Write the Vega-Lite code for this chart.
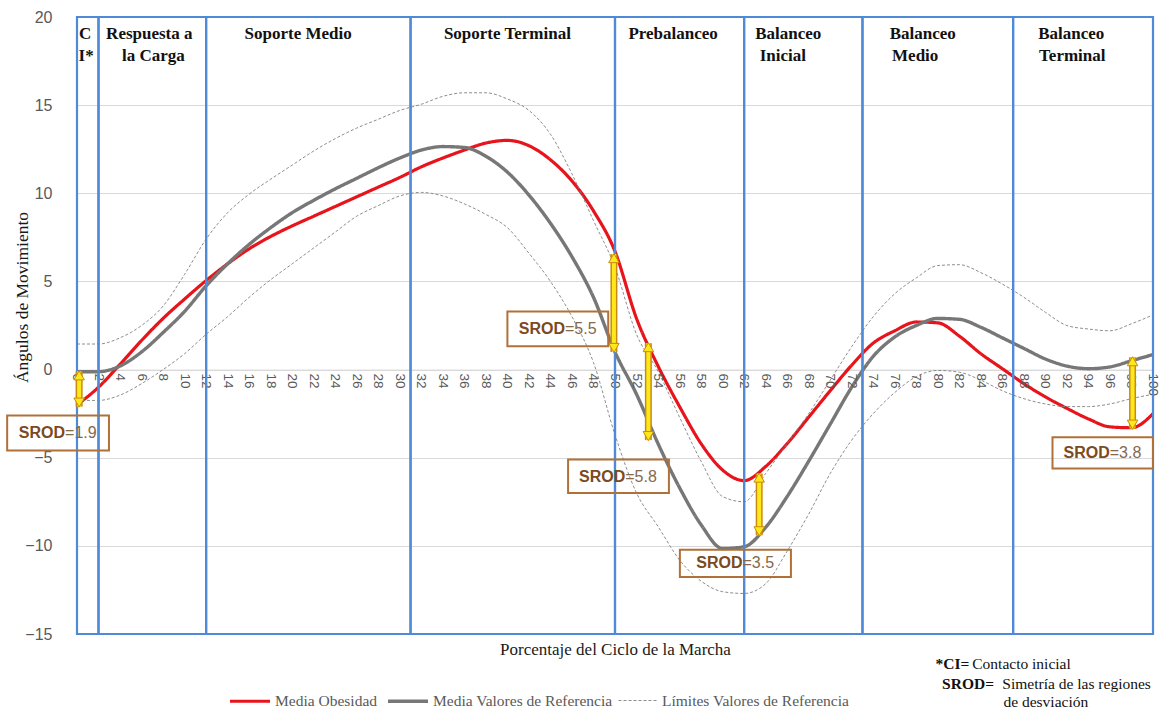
{
  "$schema": "https://vega.github.io/schema/vega-lite/v6.json",
  "width": 1076,
  "height": 617,
  "autosize": "none",
  "padding": {"left": 77, "top": 17, "right": 7, "bottom": 76},
  "background": "white",
  "config": {"view": {"stroke": null}, "font": "Liberation Sans"},
  "datasets": {
    "curve": [
      {"p":0,"ob":-2.0,"ref":-0.12,"sup":1.45,"inf":-1.75},
      {"p":2,"ob":-1.0,"ref":-0.12,"sup":1.45,"inf":-1.75},
      {"p":4,"ob":0.3,"ref":0.2,"sup":1.8,"inf":-1.45},
      {"p":6,"ob":1.65,"ref":1.0,"sup":2.5,"inf":-0.8},
      {"p":8,"ob":2.9,"ref":2.1,"sup":3.6,"inf":0.0},
      {"p":10,"ob":4.0,"ref":3.3,"sup":5.4,"inf":0.9},
      {"p":12,"ob":5.05,"ref":4.75,"sup":7.4,"inf":2.0},
      {"p":14,"ob":6.0,"ref":6.0,"sup":8.9,"inf":3.0},
      {"p":16,"ob":6.85,"ref":7.1,"sup":9.95,"inf":4.1},
      {"p":18,"ob":7.55,"ref":8.05,"sup":10.8,"inf":5.1},
      {"p":20,"ob":8.15,"ref":8.9,"sup":11.6,"inf":6.0},
      {"p":22,"ob":8.7,"ref":9.6,"sup":12.4,"inf":6.9},
      {"p":24,"ob":9.25,"ref":10.25,"sup":13.1,"inf":7.8},
      {"p":26,"ob":9.8,"ref":10.85,"sup":13.7,"inf":8.7},
      {"p":28,"ob":10.35,"ref":11.45,"sup":14.2,"inf":9.3},
      {"p":30,"ob":10.9,"ref":12.0,"sup":14.7,"inf":9.85},
      {"p":32,"ob":11.5,"ref":12.45,"sup":15.05,"inf":10.05},
      {"p":34,"ob":12.0,"ref":12.65,"sup":15.5,"inf":9.85},
      {"p":36,"ob":12.45,"ref":12.6,"sup":15.7,"inf":9.4},
      {"p":38,"ob":12.85,"ref":12.1,"sup":15.7,"inf":8.8},
      {"p":40,"ob":13.0,"ref":11.2,"sup":15.35,"inf":8.05},
      {"p":42,"ob":12.7,"ref":9.9,"sup":14.7,"inf":6.6},
      {"p":44,"ob":11.9,"ref":8.3,"sup":13.35,"inf":5.0},
      {"p":46,"ob":10.7,"ref":6.4,"sup":11.1,"inf":3.0},
      {"p":48,"ob":9.0,"ref":4.1,"sup":8.45,"inf":0.4},
      {"p":50,"ob":6.7,"ref":1.0,"sup":5.8,"inf":-3.7},
      {"p":52,"ob":2.9,"ref":-1.4,"sup":2.0,"inf":-7.0},
      {"p":54,"ob":0.2,"ref":-4.2,"sup":-0.1,"inf":-8.9},
      {"p":56,"ob":-2.1,"ref":-6.7,"sup":-2.7,"inf":-10.8},
      {"p":58,"ob":-4.2,"ref":-8.8,"sup":-5.2,"inf":-12.0},
      {"p":60,"ob":-5.7,"ref":-10.15,"sup":-7.2,"inf":-12.6},
      {"p":62,"ob":-6.3,"ref":-10.05,"sup":-7.5,"inf":-12.7},
      {"p":64,"ob":-5.5,"ref":-8.95,"sup":-5.9,"inf":-12.15},
      {"p":66,"ob":-4.2,"ref":-7.2,"sup":-4.2,"inf":-10.3},
      {"p":68,"ob":-2.7,"ref":-5.2,"sup":-2.5,"inf":-8.2},
      {"p":70,"ob":-1.2,"ref":-3.1,"sup":-0.6,"inf":-5.9},
      {"p":72,"ob":0.25,"ref":-1.0,"sup":1.3,"inf":-4.0},
      {"p":74,"ob":1.5,"ref":0.75,"sup":3.0,"inf":-2.5},
      {"p":76,"ob":2.2,"ref":1.85,"sup":4.3,"inf":-1.3},
      {"p":78,"ob":2.7,"ref":2.5,"sup":5.2,"inf":-0.4},
      {"p":80,"ob":2.65,"ref":2.9,"sup":5.9,"inf":-0.05},
      {"p":82,"ob":1.9,"ref":2.85,"sup":5.95,"inf":-0.15},
      {"p":84,"ob":0.9,"ref":2.4,"sup":5.5,"inf":-0.6},
      {"p":86,"ob":0.05,"ref":1.8,"sup":4.85,"inf":-1.2},
      {"p":88,"ob":-0.8,"ref":1.2,"sup":4.1,"inf":-1.65},
      {"p":90,"ob":-1.55,"ref":0.6,"sup":3.25,"inf":-1.95},
      {"p":92,"ob":-2.2,"ref":0.2,"sup":2.5,"inf":-2.1},
      {"p":94,"ob":-2.8,"ref":0.05,"sup":2.3,"inf":-2.1},
      {"p":96,"ob":-3.25,"ref":0.15,"sup":2.2,"inf":-1.95},
      {"p":98,"ob":-3.3,"ref":0.5,"sup":2.6,"inf":-1.65},
      {"p":100,"ob":-2.5,"ref":0.85,"sup":3.1,"inf":-1.4}
    ],
    "names": [
      {"k":"ob","s":"Media Obesidad"},
      {"k":"ref","s":"Media Valores de Referencia"},
      {"k":"sup","s":"Límites Valores de Referencia"},
      {"k":"inf","s":"Límites Valores de Referencia"}
    ],
    "ticks": [
      {"p":0},{"p":2},{"p":4},{"p":6},{"p":8},{"p":10},{"p":12},{"p":14},{"p":16},{"p":18},
      {"p":20},{"p":22},{"p":24},{"p":26},{"p":28},{"p":30},{"p":32},{"p":34},{"p":36},{"p":38},
      {"p":40},{"p":42},{"p":44},{"p":46},{"p":48},{"p":50},{"p":52},{"p":54},{"p":56},{"p":58},
      {"p":60},{"p":62},{"p":64},{"p":66},{"p":68},{"p":70},{"p":72},{"p":74},{"p":76},{"p":78},
      {"p":80},{"p":82},{"p":84},{"p":86},{"p":88},{"p":90},{"p":92},{"p":94},{"p":96},{"p":98},
      {"p":100}
    ],
    "phases": [
      {"a":0,"b":2},{"a":2,"b":12},{"a":12,"b":31},{"a":31,"b":50},
      {"a":50,"b":62},{"a":62,"b":73},{"a":73,"b":87},{"a":87,"b":100}
    ],
    "phaselabels": [
      {"p":0.75,"v":19.05,"t":"C"},{"p":0.85,"v":17.8,"t":"I*"},
      {"p":6.72,"v":19.05,"t":"Respuesta a"},{"p":7.1,"v":17.8,"t":"la Carga"},
      {"p":20.55,"v":19.05,"t":"Soporte Medio"},
      {"p":40.0,"v":19.05,"t":"Soporte Terminal"},
      {"p":55.4,"v":19.05,"t":"Prebalanceo"},
      {"p":66.1,"v":19.05,"t":"Balanceo"},{"p":65.6,"v":17.8,"t":"Inicial"},
      {"p":78.6,"v":19.05,"t":"Balanceo"},{"p":77.9,"v":17.8,"t":"Medio"},
      {"p":92.4,"v":19.05,"t":"Balanceo"},{"p":92.5,"v":17.8,"t":"Terminal"}
    ],
    "arrows": [
      {"p":0.2,"a":-0.1,"b":-2.1},
      {"p":49.9,"a":6.55,"b":1.0},
      {"p":53.1,"a":1.5,"b":-4.0},
      {"p":63.4,"a":-5.9,"b":-9.4},
      {"p":98.1,"a":0.7,"b":-3.35}
    ],
    "srod": [
      {"p1":-6.49,"p2":2.97,"v1":-2.61,"v2":-4.59,"tc":-1.76,"tv":-3.6,"t":"=1.9"},
      {"p1":40.0,"p2":49.37,"v1":3.29,"v2":1.32,"tc":44.7,"tv":2.3,"t":"=5.5"},
      {"p1":45.64,"p2":55.01,"v1":-5.1,"v2":-7.0,"tc":50.3,"tv":-6.07,"t":"=5.8"},
      {"p1":56.03,"p2":66.35,"v1":-10.22,"v2":-11.77,"tc":61.2,"tv":-11.0,"t":"=3.5"},
      {"p1":90.66,"p2":100,"v1":-3.84,"v2":-5.61,"tc":95.33,"tv":-4.72,"t":"=3.8"}
    ],
    "notes": [
      {"p":79.78,"v":-16.72,"t":"*CI=","w":"b"},
      {"p":83.2,"v":-16.72,"t":"Contacto inicial","w":"n"},
      {"p":80.4,"v":-17.83,"t":"SROD=","w":"b"},
      {"p":86.0,"v":-17.83,"t":"Simetría de las regiones","w":"n"},
      {"p":86.1,"v":-18.88,"t":"de desviación","w":"n"}
    ]
  },
  "layer": [
    {
      "data": {"name": "curve"},
      "transform": [
        {"fold": ["ob","ref","sup","inf"], "as": ["k","v"]},
        {"lookup": "k", "from": {"data": {"name": "names"}, "key": "k", "fields": ["s"]}}
      ],
      "mark": {"type": "line", "interpolate": "monotone"},
      "encoding": {
        "x": {"field": "p", "type": "quantitative",
              "scale": {"domain": [0, 100], "nice": false, "zero": false},
              "axis": {"title": "Porcentaje del Ciclo de la Marcha", "titleFont": "Liberation Serif",
                       "titleFontSize": 17, "titleFontWeight": "normal", "titleColor": "#1a1a1a",
                       "titleY": 280, "titleBaseline": "middle",
                       "offset": -264.4, "labels": false,
                       "ticks": false, "grid": false,
                       "domain": true, "domainColor": "#d9d9d9", "domainWidth": 1}},
        "y": {"field": "v", "type": "quantitative",
              "scale": {"domain": [-15, 20], "nice": false, "zero": false},
              "axis": {"title": "Ángulos de Movimiento", "titleFont": "Liberation Serif",
                       "titleFontSize": 17.5, "titleFontWeight": "normal", "titleColor": "#1a1a1a",
                       "titleX": -55, "titleY": 280, "titleAngle": -90, "titleAlign": "center", "titleBaseline": "middle",
                       "values": [-15,-10,-5,0,5,10,15,20],
                       "labelFont": "Liberation Sans", "labelFontSize": 16, "labelColor": "#595959",
                       "labelPadding": 25, "ticks": false, "domain": false,
                       "grid": true, "gridColor": "#d9d9d9", "gridWidth": 1}},
        "color": {"field": "s", "type": "nominal",
                  "scale": {"domain": ["Media Obesidad","Media Valores de Referencia","Límites Valores de Referencia"],
                            "range": ["#e8141b","#777777","#808080"]},
                  "legend": {"orient": "none", "legendX": 151, "legendY": 662, "direction": "horizontal",
                             "title": null, "labelFont": "Liberation Serif", "labelFontSize": 15.5, "labelLimit": 400,
                             "labelColor": "#595959", "symbolType": "stroke", "symbolSize": 1600,
                             "labelOffset": 3, "columnPadding": 3}},
        "strokeDash": {"field": "s", "type": "nominal",
                  "scale": {"domain": ["Media Obesidad","Media Valores de Referencia","Límites Valores de Referencia"],
                            "range": [[1,0],[1,0],[3,2]]},
                  "legend": {"orient": "none", "legendX": 151, "legendY": 662, "direction": "horizontal",
                             "title": null, "labelFont": "Liberation Serif", "labelFontSize": 15.5, "labelLimit": 400,
                             "labelColor": "#595959", "symbolType": "stroke", "symbolSize": 1600,
                             "labelOffset": 3, "columnPadding": 3}},
        "strokeWidth": {"field": "s", "type": "nominal",
                  "scale": {"type": "ordinal", "domain": ["Media Obesidad","Media Valores de Referencia","Límites Valores de Referencia"],
                            "range": [3.2, 3.4, 0.9]},
                  "legend": {"orient": "none", "legendX": 151, "legendY": 662, "direction": "horizontal",
                             "title": null, "labelFont": "Liberation Serif", "labelFontSize": 15.5, "labelLimit": 400,
                             "labelColor": "#595959", "symbolType": "stroke", "symbolSize": 1600,
                             "labelOffset": 3, "columnPadding": 3}},
        "detail": {"field": "k", "type": "nominal"}
      }
    },
    {
      "data": {"name": "ticks"},
      "mark": {"type": "text", "angle": 90, "align": "left", "baseline": "middle", "dx": 4, "font": "Liberation Sans", "fontSize": 13.5, "color": "#595959"},
      "encoding": {
        "x": {"field": "p", "type": "quantitative", "scale": {"domain": [0, 100], "nice": false, "zero": false}},
        "y": {"datum": 0, "type": "quantitative", "scale": {"domain": [-15, 20], "nice": false, "zero": false}},
        "text": {"field": "p", "type": "quantitative"}
      }
    },
    {
      "data": {"name": "phases"},
      "mark": {"type": "rect", "filled": false, "stroke": "#4e8ad8", "strokeWidth": 2.2},
      "encoding": {
        "x": {"field": "a", "type": "quantitative", "scale": {"domain": [0, 100], "nice": false, "zero": false}},
        "x2": {"field": "b"},
        "y": {"datum": -15, "type": "quantitative", "scale": {"domain": [-15, 20], "nice": false, "zero": false}},
        "y2": {"datum": 20}
      }
    },
    {
      "data": {"name": "arrows"},
      "mark": {"type": "rule", "stroke": "#c98a12", "strokeWidth": 7},
      "encoding": {
        "x": {"field": "p", "type": "quantitative", "scale": {"domain": [0, 100], "nice": false, "zero": false}},
        "y": {"field": "a", "type": "quantitative", "scale": {"domain": [-15, 20], "nice": false, "zero": false}},
        "y2": {"field": "b"}
      }
    },
    {
      "data": {"name": "arrows"},
      "mark": {"type": "rule", "stroke": "#ffe81a", "strokeWidth": 4},
      "encoding": {
        "x": {"field": "p", "type": "quantitative", "scale": {"domain": [0, 100], "nice": false, "zero": false}},
        "y": {"field": "a", "type": "quantitative", "scale": {"domain": [-15, 20], "nice": false, "zero": false}},
        "y2": {"field": "b"}
      }
    },
    {
      "data": {"name": "arrows"},
      "mark": {"type": "point", "shape": "triangle-up", "filled": true, "fill": "#ffe81a", "stroke": "#c98a12", "strokeWidth": 1, "size": 110, "opacity": 1, "yOffset": 4},
      "encoding": {
        "x": {"field": "p", "type": "quantitative", "scale": {"domain": [0, 100], "nice": false, "zero": false}},
        "y": {"field": "a", "type": "quantitative", "scale": {"domain": [-15, 20], "nice": false, "zero": false}}
      }
    },
    {
      "data": {"name": "arrows"},
      "mark": {"type": "point", "shape": "triangle-down", "filled": true, "fill": "#ffe81a", "stroke": "#c98a12", "strokeWidth": 1, "size": 110, "opacity": 1, "yOffset": -4},
      "encoding": {
        "x": {"field": "p", "type": "quantitative", "scale": {"domain": [0, 100], "nice": false, "zero": false}},
        "y": {"field": "b", "type": "quantitative", "scale": {"domain": [-15, 20], "nice": false, "zero": false}}
      }
    },
    {
      "data": {"name": "srod"},
      "mark": {"type": "rect", "filled": false, "stroke": "#b0703a", "strokeWidth": 2},
      "encoding": {
        "x": {"field": "p1", "type": "quantitative", "scale": {"domain": [0, 100], "nice": false, "zero": false}},
        "x2": {"field": "p2"},
        "y": {"field": "v1", "type": "quantitative", "scale": {"domain": [-15, 20], "nice": false, "zero": false}},
        "y2": {"field": "v2"}
      }
    },
    {
      "data": {"name": "srod"},
      "mark": {"type": "text", "align": "right", "baseline": "middle", "dx": 7, "font": "Liberation Sans", "fontSize": 16, "fontWeight": "bold", "color": "#7b4a1e"},
      "encoding": {
        "x": {"field": "tc", "type": "quantitative", "scale": {"domain": [0, 100], "nice": false, "zero": false}},
        "y": {"field": "tv", "type": "quantitative", "scale": {"domain": [-15, 20], "nice": false, "zero": false}},
        "text": {"value": "SROD"}
      }
    },
    {
      "data": {"name": "srod"},
      "mark": {"type": "text", "align": "left", "baseline": "middle", "dx": 7, "font": "Liberation Sans", "fontSize": 16, "color": "#86684a"},
      "encoding": {
        "x": {"field": "tc", "type": "quantitative", "scale": {"domain": [0, 100], "nice": false, "zero": false}},
        "y": {"field": "tv", "type": "quantitative", "scale": {"domain": [-15, 20], "nice": false, "zero": false}},
        "text": {"field": "t"}
      }
    },
    {
      "data": {"name": "phaselabels"},
      "mark": {"type": "text", "align": "center", "baseline": "middle", "font": "Liberation Serif", "fontSize": 17, "fontWeight": "bold", "color": "#111111"},
      "encoding": {
        "x": {"field": "p", "type": "quantitative", "scale": {"domain": [0, 100], "nice": false, "zero": false}},
        "y": {"field": "v", "type": "quantitative", "scale": {"domain": [-15, 20], "nice": false, "zero": false}},
        "text": {"field": "t"}
      }
    },
    {
      "data": {"name": "notes"},
      "transform": [{"filter": "datum.w == 'b'"}],
      "mark": {"type": "text", "align": "left", "baseline": "middle", "font": "Liberation Serif", "fontSize": 15.5, "fontWeight": "bold", "color": "#111111"},
      "encoding": {
        "x": {"field": "p", "type": "quantitative", "scale": {"domain": [0, 100], "nice": false, "zero": false}},
        "y": {"field": "v", "type": "quantitative", "scale": {"domain": [-15, 20], "nice": false, "zero": false}},
        "text": {"field": "t"}
      }
    },
    {
      "data": {"name": "notes"},
      "transform": [{"filter": "datum.w == 'n'"}],
      "mark": {"type": "text", "align": "left", "baseline": "middle", "font": "Liberation Serif", "fontSize": 15.5, "color": "#111111"},
      "encoding": {
        "x": {"field": "p", "type": "quantitative", "scale": {"domain": [0, 100], "nice": false, "zero": false}},
        "y": {"field": "v", "type": "quantitative", "scale": {"domain": [-15, 20], "nice": false, "zero": false}},
        "text": {"field": "t"}
      }
    }
  ]
}
